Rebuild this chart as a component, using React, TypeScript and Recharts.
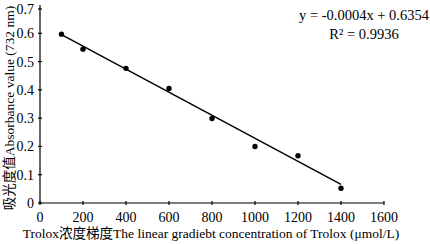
import { ScatterChart, Scatter, XAxis, YAxis } from "recharts";

const concentrations = [100, 200, 400, 600, 800, 1000, 1200, 1400];
const absorbance = [0.597, 0.544, 0.476, 0.405, 0.299, 0.2, 0.167, 0.052];
const trendX = [100, 1400];
const trendY = [0.595, 0.066];
const xTicks = [0, 200, 400, 600, 800, 1000, 1200, 1400, 1600];
const yTicks = [0, 0.1, 0.2, 0.3, 0.4, 0.5, 0.6, 0.7];

const points = concentrations.map((x, i) => ({ x, y: absorbance[i] }));
const trend = trendX.map((x, i) => ({ x, y: trendY[i] }));

const FONT = "'Liberation Serif', 'Times New Roman', 'Noto Sans CJK SC', serif";

const XTick = ({ x, y, payload }: any) => (
  <g>
    <line x1={x} x2={x} y1={y} y2={y - 4} stroke="#000" strokeWidth={1.2} />
    <text x={x} y={y + 17} textAnchor="middle" fontSize={14} fontFamily={FONT} fill="#000">
      {payload.value}
    </text>
  </g>
);

const YTick = ({ x, y, payload }: any) => (
  <g>
    <line x1={x} x2={x + 4} y1={y} y2={y} stroke="#000" strokeWidth={1.2} />
    <text x={x - 4} y={y + 5} textAnchor="end" fontSize={14} fontFamily={FONT} fill="#000">
      {payload.value}
    </text>
  </g>
);

const Dot = ({ cx, cy }: any) => <circle cx={cx} cy={cy} r={2.7} fill="#000" />;

export default function App() {
  return (
    <div style={{ position: "absolute", left: 0, top: 0, width: 430, height: 244, background: "#fff" }}>
      <ScatterChart width={430} height={244} margin={{ top: 5, right: 46, left: 0, bottom: 0 }}>
        <XAxis
          type="number"
          dataKey="x"
          domain={[0, 1600]}
          ticks={xTicks}
          height={41}
          tickSize={0}
          tickLine={false}
          axisLine={{ stroke: "#000", strokeWidth: 1.2 }}
          tick={<XTick />}
          allowDataOverflow
        />
        <YAxis
          type="number"
          dataKey="y"
          domain={[0, 0.7]}
          ticks={yTicks}
          width={40}
          tickSize={0}
          tickLine={false}
          axisLine={{ stroke: "#000", strokeWidth: 1.2 }}
          tick={<YTick />}
          allowDataOverflow
        />
        <Scatter
          data={trend}
          line={{ stroke: "#000", strokeWidth: 1.5 }}
          shape={() => null}
          isAnimationActive={false}
        />
        <Scatter data={points} fill="#000" shape={<Dot />} isAnimationActive={false} />
        <text x={364} y={20} textAnchor="middle" fontSize={14.5} fontFamily={FONT} fill="#000">
          y = -0.0004x + 0.6354
        </text>
        <text x={364} y={39} textAnchor="middle" fontSize={14.5} fontFamily={FONT} fill="#000">
          R² = 0.9936
        </text>
        <text
          x={0}
          y={0}
          transform="translate(14,108) rotate(-90)"
          textAnchor="middle"
          fontSize={13.5}
          fontFamily={FONT}
          fill="#000"
        >
          吸光度值Absorbance value (732 nm)
        </text>
        <text x={211} y={238} textAnchor="middle" fontSize={13.5} fontFamily={FONT} fill="#000">
          Trolox浓度梯度The linear gradiebt concentration of Trolox (μmol/L)
        </text>
      </ScatterChart>
    </div>
  );
}
